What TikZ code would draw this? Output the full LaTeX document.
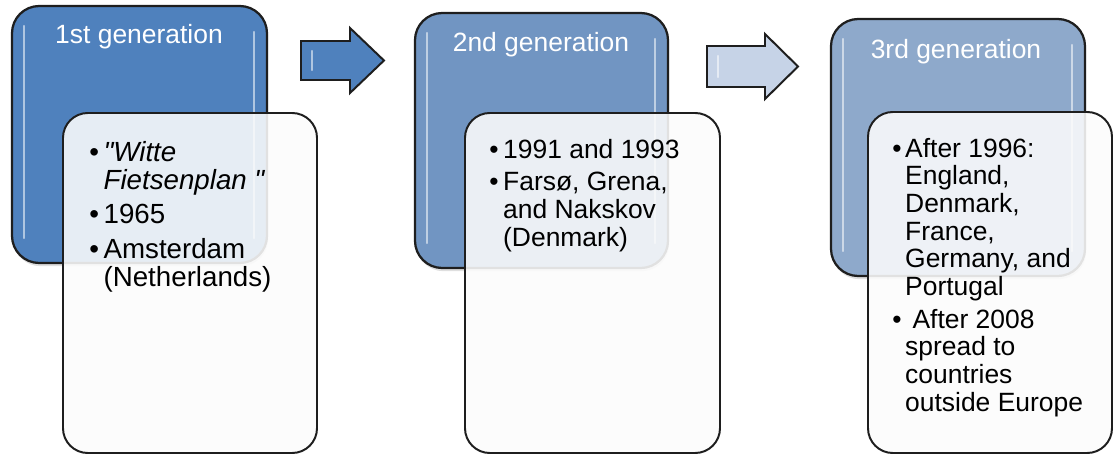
\documentclass[tikz,border=0pt]{standalone}
\usepackage{fontspec}
\setmainfont{Liberation Sans}
\usepackage{tikz}
\usetikzlibrary{shadows}

\definecolor{genA}{HTML}{4F81BD}
\definecolor{genB}{HTML}{7195C2}
\definecolor{genC}{HTML}{8EA9CB}
\definecolor{arrB}{HTML}{C6D3E7}
\definecolor{rim}{HTML}{1E1E1E}

\tikzset{
    genbox/.style={draw=rim, line width=1.6pt, rounded corners=0.68cm,
        drop shadow={opacity=0.25, shadow xshift=0.03cm, shadow yshift=-0.08cm}},
    infobox/.style={draw=rim, line width=1.4pt, rounded corners=0.62cm,
        fill=black!1, fill opacity=0.88},
    gentitle/.style={text=white, anchor=base, inner sep=0pt,
        font=\fontsize{18.8}{22}\selectfont},
    infotext/.style={anchor=base west, inner sep=0pt,
        font=\fontsize{18.8}{19.7}\selectfont},
    gloss/.style={white, opacity=0.55, line width=1.6pt, line cap=round},
    genarrow/.style={draw=rim, line width=1.4pt, line join=miter}
}

\begin{document}
\begin{tikzpicture}[x=0.025cm, y=-0.025cm]
    \useasboundingbox (0,0) rectangle (1113,454);

    % generation boxes
    \draw[genbox, fill=genA] (12,6) rectangle (267,263);
    \node[gentitle] (title1) at (139,43) {1st generation};
    \draw[genbox, fill=genB] (415,13) rectangle (668,268);
    \node[gentitle] (title2) at (541,51) {2nd generation};
    \draw[genbox, fill=genC] (831,19) rectangle (1085,276);
    \node[gentitle] (title3) at (956,58) {3rd generation};

    % glossy edges
    \foreach \l/\t/\r/\b in {12/6/267/263, 415/13/668/268, 831/19/1085/276} {
        \draw[gloss] (\l+12,\t+20) -- (\l+12,\b-25);
        \draw[gloss] (\r-13,\t+26) -- (\r-13,\b-25);
    }

    % 1st generation details
    \draw[infobox] (63,113) rectangle (317,453);
    \node[infotext, font=\fontsize{19.7}{20.3}\selectfont] (list1) at (89,161) {%
        \begin{tabular}[t]{@{}l@{\hspace{3.3pt}}l@{}}
        \textbullet & \textit{\textquotedbl Witte}\\
                    & \textit{Fietsenplan \textquotedbl}\\[3.6pt]
        \textbullet & 1965\\[4.5pt]
        \textbullet & Amsterdam\\
                    & (Netherlands)
        \end{tabular}};

    % 2nd generation details
    \draw[infobox] (465,113) rectangle (720,453);
    \node[infotext] (list2) at (489,158) {%
        \begin{tabular}[t]{@{}l@{\hspace{3.3pt}}l@{}}
        \textbullet & 1991 and 1993\\[3.6pt]
        \textbullet & Fars\o, Grena,\\
                    & and Nakskov\\
                    & (Denmark)
        \end{tabular}};

    % 3rd generation details
    \draw[infobox] (868,112) rectangle (1112,453);
    \node[infotext] (list3) at (892,157) {%
        \begin{tabular}[t]{@{}l@{\hspace{2.6pt}}l@{}}
        \textbullet & After 1996:\\
                    & England,\\
                    & Denmark,\\
                    & France,\\
                    & Germany, and\\
                    & Portugal\\[3.6pt]
        \textbullet & ~After 2008\\
                    & spread to\\
                    & countries\\
                    & outside Europe
        \end{tabular}};

    % arrows
    \draw[genarrow, fill=genA] (301,41) -- (350,41) -- (350,28) -- (384,60.5)
        -- (350,93) -- (350,80) -- (301,80) -- cycle;
    \draw[gloss] (312,51) -- (312,70);
    \draw[genarrow, fill=arrB] (707,46) -- (765,46) -- (765,34) -- (798,66.5)
        -- (765,99) -- (765,87) -- (707,87) -- cycle;
    \draw[gloss] (718,56) -- (718,77);
\end{tikzpicture}
\end{document}
